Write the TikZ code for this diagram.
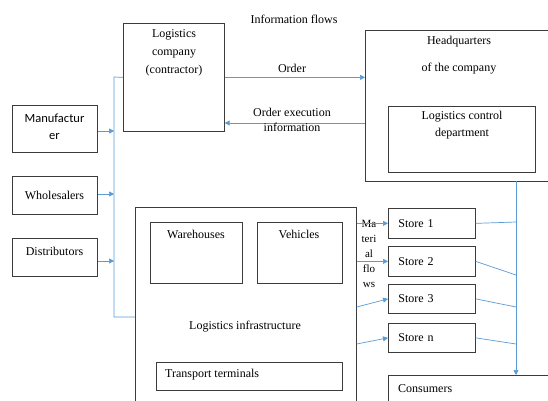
\documentclass[tikz,border=0pt]{standalone}
\usepackage{fontspec}
\setmainfont{Liberation Serif}
\newfontfamily\timesfont{Liberation Serif}
\newfontfamily\calibrifont{Carlito}
\usetikzlibrary{arrows.meta}
\definecolor{flowblue}{RGB}{91,155,213}
\definecolor{boxgray}{RGB}{60,60,60}
\begin{document}
\begin{tikzpicture}[x=1pt,y=-1pt,
  box/.style={draw=boxgray, line width=0.7pt, anchor=north west, inner sep=0pt},
  storebox/.style={box, minimum width=87pt, minimum height=30pt, inner xsep=10pt, text width=67pt, align=left, font=\timesfont\fontsize{12}{14}\selectfont},
  txt/.style={font=\timesfont\fontsize{12}{18}\selectfont, align=center, inner sep=0pt},
  flow/.style={draw=flowblue, line width=0.7pt},
  arr/.style={flow, -{Triangle[length=5pt,width=5pt]}}]
\fill[white] (0,0) rectangle (548,400);
\clip (0,0) rectangle (548,400);
% Information flows
\node[txt] (infotitle) at (294,19) {Information flows};
\node[box, minimum width=101pt, minimum height=108pt] (lc) at (123,23) {};
\node[txt] (lctext) at (174,53) {Logistics\\company\\(contractor)};
\node[box, minimum width=200pt, minimum height=151pt] (hq) at (365,30) {};
\node[txt, font=\timesfont\fontsize{12}{27}\selectfont] (hqtext) at (459,55) {Headquarters\\of the company};
\node[box, minimum width=147pt, minimum height=66pt] (lcd) at (388,106) {};
\node[txt, font=\timesfont\fontsize{12}{17}\selectfont] (lcdtext) at (462,125) {Logistics control\\department};
\draw[arr] (lc.east) -- (lc.east -| hq.west);
\node[txt] (ordertext) at (292,68) {Order};
\draw[arr] (hq.west |- 0,123) -- (lc.east |- 0,123);
\node[txt, font=\timesfont\fontsize{12}{15}\selectfont] (exectext) at (292,120) {Order execution\\information};
% Suppliers
\node[box, minimum width=85pt, minimum height=47pt] (man) at (12,105) {};
\node[txt, font=\calibrifont\fontsize{12.5}{17}\selectfont] (mantext) at (54.5,127) {Manufactur\\er};
\node[box, minimum width=85pt, minimum height=38pt] (whole) at (12,176) {};
\node[txt] (wholetext) at (54.5,195) {Wholesalers};
\node[box, minimum width=85pt, minimum height=38pt] (dist) at (12,238) {};
\node[txt] (disttext) at (54.5,251) {Distributors};
\coordinate (lbus) at (114,77);
\draw[arr] (man.east |- 0,131) -- (lbus |- 0,131);
\draw[arr] (whole.east |- 0,194) -- (lbus |- 0,194);
\draw[arr] (dist.east |- 0,261) -- (lbus |- 0,261);
% Logistics infrastructure
\node[box, minimum width=221pt, minimum height=210pt] (infra) at (135,207) {};
\node[box, minimum width=92pt, minimum height=61pt] (wh) at (150,222) {};
\node[txt] (whtext) at (196,234) {Warehouses};
\node[box, minimum width=85pt, minimum height=61pt] (veh) at (257,222) {};
\node[txt] (vehtext) at (299,234) {Vehicles};
\node[txt] (infratext) at (245,327) {Logistics infrastructure};
\node[box, minimum width=186pt, minimum height=28pt] (tt) at (156,362) {};
\node[txt, anchor=west] (tttext) at (165,375) {Transport terminals};
\draw[flow] (lc.west) -- (lbus) -- (lbus |- 0,317) -- (infra.west |- 0,317);
% Stores
\node[storebox] (s1) at (388,208) {Store 1};
\node[storebox] (s2) at (388,246) {Store 2};
\node[storebox, minimum height=29pt] (s3) at (388,284) {Store 3};
\node[storebox, minimum height=29pt] (sn) at (388,323) {Store n};
\node[box, minimum width=170pt, minimum height=40pt] (cons) at (388,375) {};
\node[txt, anchor=west] (constext) at (398,389) {Consumers};
\node[txt, font=\timesfont\fontsize{11}{15}\selectfont] (mattext) at (369,254) {Ma\\teri\\al\\flo\\ws};
\draw[arr] (s1.west -| infra.east) -- (s1.west);
\draw[arr] (s2.west -| infra.east) -- (s2.west);
\draw[arr] (infra.east |- 0,307) -- (s3.west);
\draw[arr] (infra.east |- 0,344) -- (sn.west);
\coordinate (rbus) at (516,181);
\draw[arr] (rbus) -- (rbus |- cons.north);
\draw[flow] (s1.east) -- (rbus |- 0,222);
\draw[flow] (s2.east) -- (rbus |- 0,275);
\draw[flow] (s3.east) -- (rbus |- 0,307);
\draw[flow] (sn.east) -- (rbus |- 0,344);
\end{tikzpicture}
\end{document}
